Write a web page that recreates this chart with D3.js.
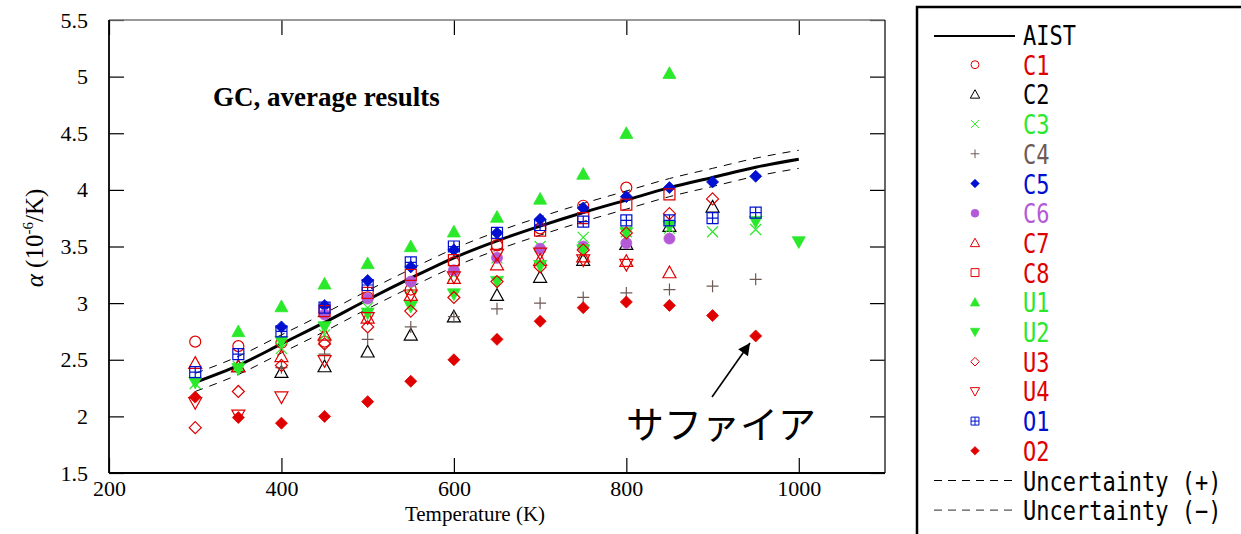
<!DOCTYPE html>
<html>
<head>
<meta charset="utf-8">
<script src="https://cdn.jsdelivr.net/npm/d3@7"></script>
<style>
body { margin: 0; background: #fff; }
</style>
</head>
<body>
<svg id="chart" width="1241" height="534"></svg>
<script>
// temperatures (K) shared by all series
var temps = [300, 350, 400, 450, 500, 550, 600, 650, 700, 750, 800, 850, 900, 950, 1000];

var aist     = [2.30, 2.45, 2.64, 2.83, 3.03, 3.22, 3.40, 3.55, 3.68, 3.80, 3.91, 4.02, 4.11, 4.20, 4.27];
var uncPlus  = [2.38, 2.53, 2.72, 2.91, 3.11, 3.30, 3.48, 3.63, 3.76, 3.88, 3.99, 4.10, 4.19, 4.28, 4.35];
var uncMinus = [2.22, 2.37, 2.56, 2.75, 2.95, 3.14, 3.32, 3.47, 3.60, 3.72, 3.83, 3.94, 4.03, 4.12, 4.19];

var c1 = [2.66, 2.62, 2.65, 2.66, 3.05, 3.12, 3.36, 3.51, 3.66, 3.86, 4.02, null, null, null, null];
var c2 = [null, 2.44, 2.39, 2.44, 2.57, 2.72, 2.88, 3.07, 3.23, 3.38, 3.52, 3.68, 3.85, null, null];
var c3 = [2.29, 2.44, 2.60, 2.72, 2.96, 3.13, 3.25, 3.40, 3.50, 3.58, 3.63, 3.66, 3.63, 3.65, null];
var c4 = [null, null, 2.43, 2.55, 2.68, 2.79, 2.88, 2.95, 3.00, 3.05, 3.09, 3.12, 3.15, 3.21, null];
var c5 = [null, null, 2.79, 2.98, 3.20, 3.32, 3.47, 3.62, 3.74, 3.84, 3.94, 4.02, 4.07, 4.12, null];
var c6 = [null, null, null, 2.90, 3.04, 3.19, 3.29, 3.40, 3.48, 3.50, 3.53, 3.57, null, null, null];
var c7 = [2.47, 2.44, 2.53, 2.72, 2.87, 3.07, 3.22, 3.34, 3.38, 3.41, 3.37, 3.27, null, null, null];
var c8 = [null, null, null, 2.93, 3.09, 3.25, 3.38, 3.52, 3.64, 3.75, 3.87, 3.96, null, null, null];
var u1 = [null, 2.75, 2.97, 3.17, 3.35, 3.50, 3.63, 3.76, 3.92, 4.14, 4.50, 5.03, null, null, null];
var u2 = [2.30, 2.42, 2.66, 2.79, 2.91, 2.97, 3.08, 3.19, 3.33, 3.47, 3.62, 3.68, null, 3.72, 3.54];
var u3 = [1.90, 2.22, 2.45, 2.64, 2.79, 2.93, 3.05, 3.19, 3.32, 3.47, 3.62, 3.79, 3.92, null, null];
var u4 = [2.12, 2.01, 2.17, 2.49, 2.87, 3.07, 3.23, 3.43, 3.44, 3.38, 3.34, null, null, null, null];
var o1 = [2.39, 2.55, 2.75, 2.96, 3.16, 3.36, 3.50, 3.62, 3.69, 3.72, 3.73, 3.73, 3.75, 3.80, null];
var o2 = [2.17, 1.99, 1.94, 2.00, 2.13, 2.31, 2.50, 2.68, 2.84, 2.96, 3.01, 2.98, 2.89, 2.71, null];

var xTicks = [200, 400, 600, 800, 1000];
var yTicks = [1.5, 2, 2.5, 3, 3.5, 4, 4.5, 5, 5.5];

var red = "#e00000", green = "#2ae82a", brown = "#6e5a55", blue = "#0010d0", purple = "#b45ad8";

var series = [
    {name: "C1", vals: c1, shape: "circle", fill: false, color: red},
    {name: "C2", vals: c2, shape: "triUp", fill: false, color: "#000"},
    {name: "C3", vals: c3, shape: "cross", fill: false, color: green},
    {name: "C4", vals: c4, shape: "plus", fill: false, color: brown},
    {name: "C5", vals: c5, shape: "diamond", fill: true, color: blue},
    {name: "C6", vals: c6, shape: "circle", fill: true, color: purple},
    {name: "C7", vals: c7, shape: "triUp", fill: false, color: red},
    {name: "C8", vals: c8, shape: "square", fill: false, color: red},
    {name: "U1", vals: u1, shape: "triUp", fill: true, color: green},
    {name: "U2", vals: u2, shape: "triDown", fill: true, color: green},
    {name: "U3", vals: u3, shape: "diamond", fill: false, color: red},
    {name: "U4", vals: u4, shape: "triDown", fill: false, color: red},
    {name: "O1", vals: o1, shape: "grid", fill: false, color: blue},
    {name: "O2", vals: o2, shape: "diamond", fill: true, color: red}
];

function markerPath(shape, s) {
    switch (shape) {
        case "circle": return "M" + (-s) + ",0a" + s + "," + s + " 0 1,0 " + (2 * s) + ",0a" + s + "," + s + " 0 1,0 " + (-2 * s) + ",0Z";
        case "triUp": return "M0," + (-s) + "L" + s + "," + (s * 0.8) + "L" + (-s) + "," + (s * 0.8) + "Z";
        case "triDown": return "M0," + s + "L" + s + "," + (-s * 0.8) + "L" + (-s) + "," + (-s * 0.8) + "Z";
        case "cross": return "M" + (-s) + "," + (-s) + "L" + s + "," + s + "M" + (-s) + "," + s + "L" + s + "," + (-s);
        case "plus": return "M" + (-s) + ",0H" + s + "M0," + (-s) + "V" + s;
        case "diamond": return "M0," + (-s) + "L" + s + ",0L0," + s + "L" + (-s) + ",0Z";
        case "square": return "M" + (-s) + "," + (-s) + "H" + s + "V" + s + "H" + (-s) + "Z";
        case "grid": return "M" + (-s) + "," + (-s) + "H" + s + "V" + s + "H" + (-s) + "Z" +
            "M" + (-s) + ",0H" + s + "M0," + (-s) + "V" + s;
    }
}
var sizeOf = {circle: 5.5, triUp: 6.5, triDown: 6.5, cross: 5.5, plus: 6, diamond: 6, square: 5.5, grid: 5.5};

var svg = d3.select("#chart");
var serif = "'Liberation Serif','Times New Roman',serif";

var x = d3.scaleLinear().domain([200, 1100]).range([109, 885]);
var y = d3.scaleLinear().domain([1.5, 5.5]).range([473, 20]);

// axes, ticks inside
svg.append("g").attr("transform", "translate(0,473)")
    .call(d3.axisBottom(x).tickValues(xTicks).tickSize(-15).tickPadding(7).tickFormat(d3.format("d")))
    .call(function(g) {
        g.select(".domain").remove();
        g.selectAll("text").style("font-family", serif).style("font-size", "22px").attr("fill", "#000");
        g.selectAll("line").attr("stroke", "#000").attr("stroke-width", 1.2);
    });
svg.append("g").attr("transform", "translate(109,0)")
    .call(d3.axisLeft(y).tickValues(yTicks).tickSize(-15).tickPadding(21).tickFormat(function(d) { return String(d); }))
    .call(function(g) {
        g.select(".domain").remove();
        g.selectAll("text").style("font-family", serif).style("font-size", "22px").attr("fill", "#000");
        g.selectAll("line").attr("stroke", "#000").attr("stroke-width", 1.2);
    });
svg.append("g").attr("transform", "translate(0,20)")
    .call(d3.axisTop(x).tickValues(xTicks).tickSize(-15).tickFormat(""))
    .call(function(g) {
        g.select(".domain").remove();
        g.selectAll("line").attr("stroke", "#000").attr("stroke-width", 1.2);
    });
svg.append("g").attr("transform", "translate(885,0)")
    .call(d3.axisRight(y).tickValues(yTicks).tickSize(-15).tickFormat(""))
    .call(function(g) {
        g.select(".domain").remove();
        g.selectAll("line").attr("stroke", "#000").attr("stroke-width", 1.2);
    });

// frame
svg.append("line").attr("x1", 109).attr("x2", 885).attr("y1", 20).attr("y2", 20).attr("stroke", "#777").attr("stroke-width", 1.5);
svg.append("line").attr("x1", 885).attr("x2", 885).attr("y1", 20).attr("y2", 473).attr("stroke", "#333").attr("stroke-width", 1.5);
svg.append("line").attr("x1", 109).attr("x2", 109).attr("y1", 20).attr("y2", 473).attr("stroke", "#000").attr("stroke-width", 1.8);
svg.append("line").attr("x1", 109).attr("x2", 885).attr("y1", 473).attr("y2", 473).attr("stroke", "#000").attr("stroke-width", 1.8);

// AIST curve and uncertainty band
var line = d3.line()
    .x(function(d, i) { return x(temps[i]); })
    .y(function(d) { return y(d); })
    .curve(d3.curveMonotoneX);
svg.append("path").attr("d", line(uncPlus)).attr("fill", "none").attr("stroke", "#000").attr("stroke-width", 1).attr("stroke-dasharray", "8,7");
svg.append("path").attr("d", line(uncMinus)).attr("fill", "none").attr("stroke", "#000").attr("stroke-width", 1).attr("stroke-dasharray", "8,7");
svg.append("path").attr("d", line(aist)).attr("fill", "none").attr("stroke", "#000").attr("stroke-width", 3);

// markers
series.forEach(function(s) {
    var pts = [];
    s.vals.forEach(function(v, i) { if (v != null) pts.push({t: temps[i], v: v}); });
    svg.append("g").selectAll("path").data(pts).enter().append("path")
        .attr("transform", function(d) { return "translate(" + x(d.t) + "," + y(d.v) + ")"; })
        .attr("d", markerPath(s.shape, sizeOf[s.shape]))
        .attr("fill", s.fill ? s.color : "none")
        .attr("stroke", s.color)
        .attr("stroke-width", s.fill ? 0.8 : 1.2);
});

// in-plot texts
svg.append("text").attr("x", 213).attr("y", 106)
    .style("font-family", serif).attr("font-weight", "bold").style("font-size", "27px")
    .text("GC, average results");

svg.append("text").attr("x", 475).attr("y", 521).attr("text-anchor", "middle")
    .style("font-family", serif).style("font-size", "21px")
    .text("Temperature (K)");

var yl = svg.append("text").attr("transform", "translate(43,238) rotate(-90)")
    .attr("text-anchor", "middle").style("font-family", serif).style("font-size", "25px");
yl.append("tspan").attr("font-style", "italic").text("α");
yl.append("tspan").text(" (10");
yl.append("tspan").style("font-size", "15px").attr("dy", -10).text("-6");
yl.append("tspan").attr("dy", 10).text("/K)");

// sapphire annotation
svg.append("defs").append("marker").attr("id", "head")
    .attr("viewBox", "0 0 10 10").attr("refX", 10).attr("refY", 5)
    .attr("markerWidth", 16).attr("markerHeight", 12).attr("markerUnits", "userSpaceOnUse")
    .attr("orient", "auto")
    .append("path").attr("d", "M0,0L10,5L0,10Z").attr("fill", "#000");
svg.append("line").attr("x1", 712).attr("y1", 397).attr("x2", 750).attr("y2", 343)
    .attr("stroke", "#000").attr("stroke-width", 1.6).attr("marker-end", "url(#head)");
svg.append("text").attr("x", 626).attr("y", 438)
    .style("font-family", "'Noto Sans CJK JP',sans-serif").style("font-size", "38px")
    .text("サファイア");

// legend
svg.append("rect").attr("x", 917).attr("y", 7).attr("width", 400).attr("height", 600)
    .attr("fill", "none").attr("stroke", "#000").attr("stroke-width", 2.5);

var mono = "'DejaVu Sans Mono',monospace";
var rowY = function(i) { return 45 + i * 29.7; };
function legendText(i, label, color) {
    svg.append("text")
        .attr("transform", "translate(1023," + rowY(i) + ") scale(1,1.22)")
        .style("font-family", mono).style("font-size", "22px").attr("fill", color)
        .text(label);
}
svg.append("line").attr("x1", 934).attr("x2", 1015).attr("y1", rowY(0) - 9).attr("y2", rowY(0) - 9)
    .attr("stroke", "#000").attr("stroke-width", 2);
legendText(0, "AIST", "#000");
series.forEach(function(s, k) {
    var i = k + 1;
    svg.append("path")
        .attr("transform", "translate(975," + (rowY(i) - 10) + ")")
        .attr("d", markerPath(s.shape, sizeOf[s.shape] * 0.72))
        .attr("fill", s.fill ? s.color : "none")
        .attr("stroke", s.color)
        .attr("stroke-width", s.fill ? 0.6 : 1);
    legendText(i, s.name, s.color);
});
[["Uncertainty (+)", "#000"], ["Uncertainty (−)", "#555"]].forEach(function(u, k) {
    var i = 15 + k;
    svg.append("line").attr("x1", 934).attr("x2", 1015).attr("y1", rowY(i) - 10).attr("y2", rowY(i) - 10)
        .attr("stroke", u[1]).attr("stroke-width", 1.2).attr("stroke-dasharray", "8,6");
    legendText(i, u[0], "#000");
});
</script>
</body>
</html>
